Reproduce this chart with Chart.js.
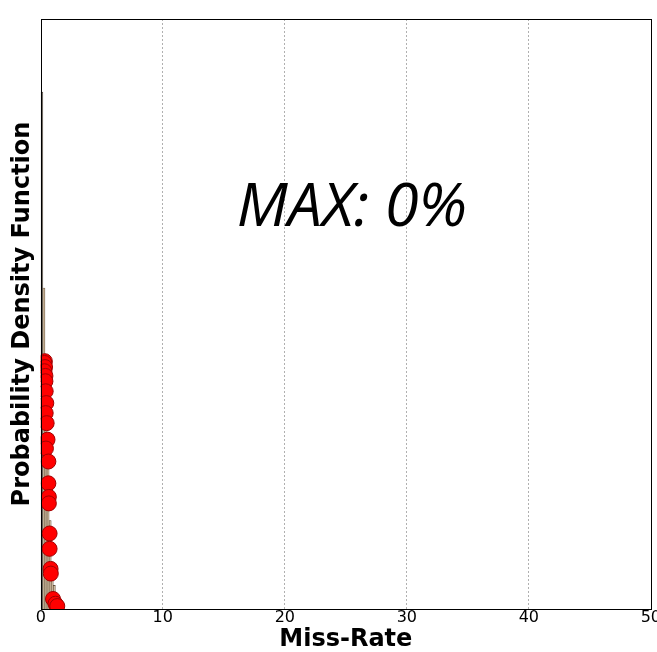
<!DOCTYPE html>
<html>
<head>
<meta charset="utf-8">
<script src="https://cdn.jsdelivr.net/npm/chart.js@4"></script>
<style>
  html, body { margin: 0; padding: 0; background: #fff; overflow: hidden; }
  #wrap { width: 662px; height: 652px; }
</style>
</head>
<body>
<div id="wrap"><canvas id="pdfChart" width="662" height="652"></canvas></div>
<script>

// histogram bins (miss-rate centre, density in % of axis height)
const binCenters = [0.085, 0.255, 0.425, 0.595, 0.765, 0.935, 1.105, 1.275];
const binHeights = [87.6, 54.4, 42.0, 30.0, 15.0, 8.0, 4.0, 2.0];

// red markers (miss-rate, density)
const pointX = [0.33, 0.30, 0.35, 0.30, 0.38, 0.38, 0.40, 0.45, 0.40, 0.48, 0.55, 0.42,
                0.62, 0.62, 0.66, 0.66, 0.72, 0.72, 0.80, 0.82, 1.00, 1.20, 1.35];
const pointY = [42.0, 41.7, 41.0, 40.3, 39.5, 38.6, 36.9, 34.9, 33.2, 31.5, 28.7, 27.2,
                25.0, 21.3, 19.0, 17.9, 12.8, 10.2, 6.8, 6.0, 1.7, 0.9, 0.5];

const xTicks = [0, 10, 20, 30, 40, 50];
const maxLabel = "MAX: 0%";

let barData = binCenters.map((x, i) => ({x: x, y: binHeights[i]}));
let pointData = pointX.map((x, i) => ({x: x, y: pointY[i]}));

const frameAndLabel = {
  id: "frameAndLabel",
  afterDatasetsDraw(chart){
    const a = chart.chartArea;
    const ctx = chart.ctx;
    ctx.save();
    ctx.strokeStyle = "#000";
    ctx.lineWidth = 1;
    ctx.strokeRect(Math.round(a.left) + 0.5, Math.round(a.top) + 0.5,
                   Math.round(a.right - a.left), Math.round(a.bottom - a.top));
    ctx.fillStyle = "#000";
    ctx.font = "italic 61px 'Open Sans'";
    ctx.textAlign = "center";
    ctx.textBaseline = "alphabetic";
    ctx.fillText(maxLabel, a.left + (a.right - a.left) * 0.51, a.top + (a.bottom - a.top) * 0.35);
    ctx.restore();
  }
};

const ctx = document.getElementById("pdfChart").getContext("2d");

new Chart(ctx, {
  type: "bar",
  data: {
    datasets: [
      {
        type: "scatter",
        data: pointData,
        backgroundColor: "#ff0000",
        borderColor: "#a00000",
        borderWidth: 1,
        pointRadius: 7.5,
        order: 0
      },
      {
        type: "bar",
        data: barData,
        backgroundColor: binCenters.map((x, i) => i === 0 ? "#8c8c8c" : "#cdb89c"),
        borderColor: "#4a3a2a",
        borderWidth: 0.6,
        barPercentage: 1,
        categoryPercentage: 1,
        order: 1
      }
    ]
  },
  options: {
    responsive: false,
    animation: false,
    layout: { padding: { top: 19, left: 6, right: 0, bottom: 0 } },
    plugins: {
      legend: { display: false },
      tooltip: { enabled: false }
    },
    scales: {
      x: {
        type: "linear",
        min: 0,
        max: 50,
        offset: false,
        afterBuildTicks(scale){
          scale.ticks = xTicks.map(v => ({value: v}));
        },
        ticks: {
          color: "#000",
          font: { family: "DejaVu Sans", size: 16, lineHeight: 1 },
          padding: 1,
          maxRotation: 0
        },
        grid: {
          offset: false,
          drawTicks: false,
          color: c => (c.tick && (c.tick.value === 0 || c.tick.value === 50)) ? "rgba(0,0,0,0)" : "#b0b0b0",
          lineWidth: 1
        },
        border: { display: false, dash: [2, 2] },
        title: {
          display: true,
          text: "Miss-Rate",
          color: "#000",
          font: { family: "DejaVu Sans", size: 24, weight: "bold", lineHeight: 1 },
          padding: { top: 1, bottom: 0 }
        }
      },
      y: {
        min: 0,
        max: 100,
        ticks: { display: false },
        grid: { display: false, drawTicks: false },
        border: { display: false },
        title: {
          display: true,
          text: "Probability Density Function",
          color: "#000",
          font: { family: "DejaVu Sans", size: 24, weight: "bold" },
          padding: { top: 2, bottom: 4 }
        }
      }
    }
  },
  plugins: [frameAndLabel]
});

</script>
</body>
</html>
